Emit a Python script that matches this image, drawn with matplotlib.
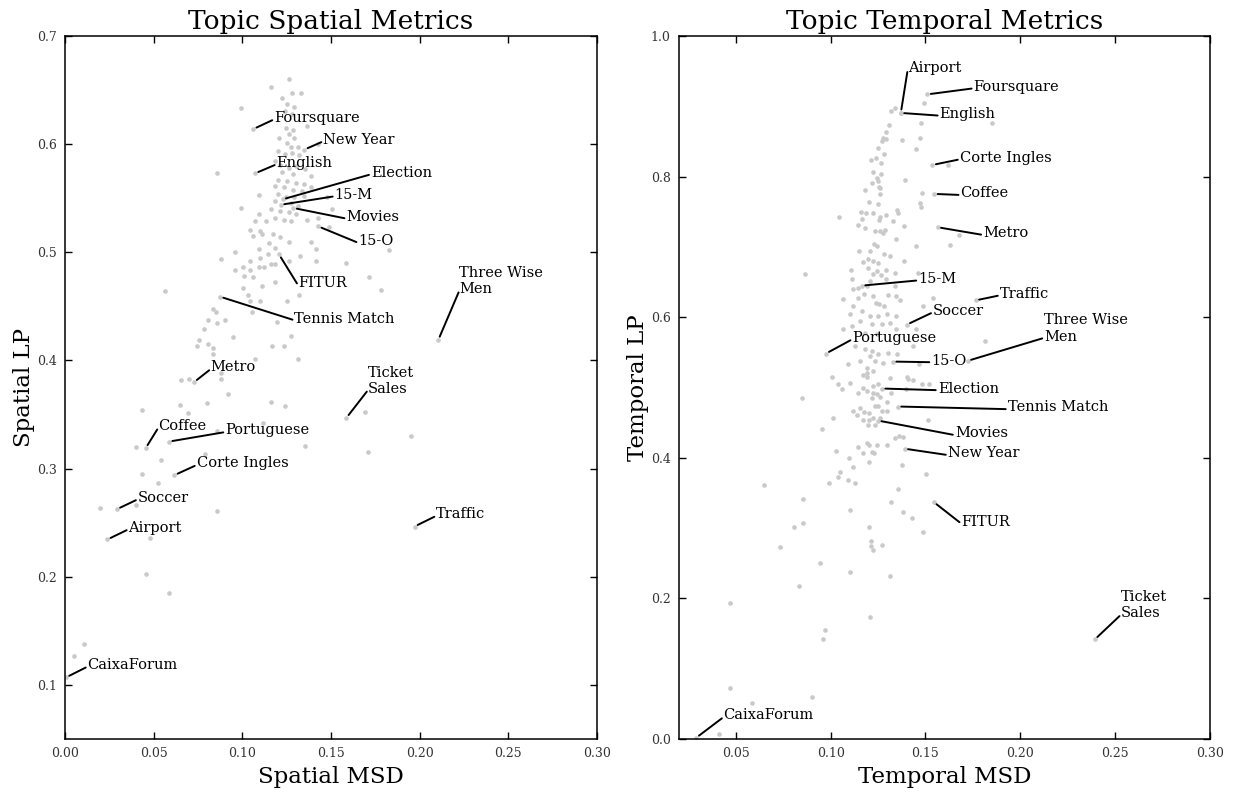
import matplotlib.pyplot as plt
from matplotlib.ticker import FormatStrFormatter

plt.rcParams['font.family'] = 'DejaVu Serif'

# ---- spatial metrics: every topic as (MSD, LP) ----
spatial_pts = [
    (0.1264, 0.660), (0.1159, 0.653), (0.1280, 0.647), (0.1328, 0.647), (0.1223, 0.643),
    (0.1250, 0.637), (0.1290, 0.634), (0.1240, 0.631), (0.1280, 0.628), (0.0995, 0.633),
    (0.1365, 0.617), (0.1244, 0.615), (0.1288, 0.613), (0.1264, 0.609), (0.1294, 0.606),
    (0.1207, 0.606), (0.1254, 0.601), (0.1274, 0.597), (0.1314, 0.597), (0.1426, 0.600),
    (0.1200, 0.594), (0.1240, 0.591), (0.1280, 0.592), (0.1320, 0.590), (0.0855, 0.573),
    (0.1183, 0.584), (0.1213, 0.581), (0.1264, 0.578), (0.1304, 0.580), (0.1355, 0.577),
    (0.1385, 0.571), (0.1223, 0.574), (0.1284, 0.572), (0.1203, 0.567), (0.1254, 0.566),
    (0.1304, 0.564), (0.1345, 0.563), (0.1183, 0.561), (0.1233, 0.560), (0.1284, 0.558),
    (0.1335, 0.557), (0.1385, 0.560), (0.1203, 0.554), (0.1244, 0.551), (0.1294, 0.551),
    (0.1345, 0.552), (0.1183, 0.547), (0.1274, 0.546), (0.1314, 0.543), (0.1163, 0.540),
    (0.1213, 0.538), (0.1264, 0.537), (0.1304, 0.535), (0.1183, 0.532), (0.1233, 0.530),
    (0.1274, 0.529), (0.1365, 0.530), (0.1426, 0.532), (0.1096, 0.553), (0.0991, 0.541),
    (0.1506, 0.540), (0.1476, 0.551), (0.1092, 0.535), (0.1132, 0.529), (0.1072, 0.529),
    (0.1102, 0.520), (0.1112, 0.517), (0.1041, 0.521), (0.1062, 0.515), (0.1490, 0.523),
    (0.1173, 0.517), (0.1213, 0.514), (0.1153, 0.509), (0.1183, 0.504), (0.1092, 0.503),
    (0.1142, 0.498), (0.1102, 0.495), (0.1264, 0.510), (0.1385, 0.510), (0.1415, 0.503),
    (0.1826, 0.502), (0.0880, 0.494), (0.0960, 0.500), (0.1041, 0.492), (0.1001, 0.486),
    (0.0960, 0.484), (0.1041, 0.484), (0.1011, 0.478), (0.1062, 0.477), (0.1092, 0.486),
    (0.1122, 0.486), (0.1163, 0.489), (0.1183, 0.489), (0.1264, 0.492), (0.1324, 0.497),
    (0.1415, 0.492), (0.1583, 0.490), (0.1112, 0.469), (0.1183, 0.473), (0.1001, 0.467),
    (0.1031, 0.461), (0.1041, 0.455), (0.1102, 0.455), (0.1254, 0.455), (0.1320, 0.461),
    (0.1715, 0.477), (0.1780, 0.465), (0.0564, 0.464), (0.0833, 0.448), (0.0852, 0.445),
    (0.0805, 0.437), (0.0856, 0.435), (0.0902, 0.437), (0.0786, 0.429), (0.0949, 0.422),
    (0.0756, 0.419), (0.0743, 0.413), (0.0808, 0.415), (0.0836, 0.412), (0.0836, 0.406),
    (0.1167, 0.413), (0.1235, 0.413), (0.1275, 0.423), (0.1316, 0.401), (0.1072, 0.401),
    (0.0654, 0.382), (0.0699, 0.383), (0.0880, 0.388), (0.0880, 0.383), (0.0921, 0.369),
    (0.0649, 0.359), (0.0799, 0.361), (0.1160, 0.362), (0.1241, 0.358), (0.0433, 0.354),
    (0.1053, 0.445), (0.1194, 0.436), (0.0694, 0.351), (0.1118, 0.3425), (0.0859, 0.335),
    (0.0398, 0.320), (0.0787, 0.3135), (0.1355, 0.321), (0.1951, 0.330), (0.1709, 0.315),
    (0.1690, 0.352), (0.0544, 0.308), (0.0433, 0.295), (0.0526, 0.287), (0.0198, 0.264),
    (0.0398, 0.266), (0.0859, 0.261), (0.0481, 0.236), (0.0459, 0.2025), (0.0586, 0.185),
    (0.0107, 0.138), (0.0051, 0.1265),
]

spatial_names = ['Foursquare', 'New Year', 'English', 'Election', '15-M', 'Movies',
                 '15-O', 'FITUR', 'Tennis Match', 'Three Wise\nMen', 'Metro',
                 'Ticket\nSales', 'Coffee', 'Portuguese', 'Corte Ingles', 'Soccer',
                 'Airport', 'Traffic', 'CaixaForum']
spatial_msd = [0.1062, 0.1350, 0.1072, 0.1227, 0.1217, 0.1288, 0.1428, 0.1207, 0.0874,
               0.2105, 0.0728, 0.1587, 0.0455, 0.0586, 0.0617, 0.0293, 0.0239, 0.1971,
               0.0006]
spatial_lp = [0.614, 0.595, 0.573, 0.549, 0.544, 0.541, 0.524, 0.498, 0.459,
              0.419, 0.380, 0.347, 0.319, 0.325, 0.294, 0.2625, 0.2345, 0.2465,
              0.107]
# where each label sits (left edge, baseline of first line)
spatial_text = [(0.1179, 0.6208), (0.1456, 0.6005), (0.1193, 0.5793), (0.1725, 0.570),
                (0.1521, 0.5497), (0.1587, 0.529), (0.1654, 0.5066), (0.1314, 0.4675),
                (0.1294, 0.435), (0.2224, 0.4622), (0.0822, 0.390), (0.1709, 0.3702),
                (0.0526, 0.3357), (0.0904, 0.3317), (0.0742, 0.3012), (0.0410, 0.2695),
                (0.0358, 0.2418), (0.2093, 0.2542), (0.0127, 0.1148)]

# ---- temporal metrics ----
temporal_pts = [
    (0.1317, 0.8935), (0.1338, 0.8977), (0.1491, 0.9048), (0.1475, 0.8764), (0.1307, 0.8736),
    (0.1291, 0.8636), (0.1275, 0.8551), (0.1270, 0.8509), (0.1291, 0.8537), (0.1375, 0.8523),
    (0.1470, 0.8551), (0.1449, 0.8395), (0.1249, 0.8409), (0.1280, 0.8324), (0.1212, 0.8239),
    (0.1238, 0.8267), (0.1265, 0.8196), (0.1222, 0.8068), (0.1265, 0.8040), (0.1243, 0.7983),
    (0.1249, 0.7940), (0.1217, 0.7912), (0.1254, 0.7855), (0.1259, 0.7841), (0.1391, 0.7955),
    (0.1180, 0.7812), (0.1259, 0.7756), (0.1481, 0.7770), (0.1201, 0.7642), (0.1249, 0.7614),
    (0.1470, 0.7628), (0.1475, 0.7571), (0.1159, 0.7500), (0.1185, 0.7486), (0.1222, 0.7486),
    (0.1259, 0.7429), (0.1291, 0.7457), (0.1349, 0.7528), (0.1354, 0.7486), (0.1043, 0.7429),
    (0.1164, 0.7401), (0.1254, 0.7386), (0.1328, 0.7372), (0.1143, 0.7315), (0.1180, 0.7273),
    (0.1233, 0.7230), (0.1259, 0.7230), (0.1286, 0.7244), (0.1275, 0.7202), (0.1386, 0.7301),
    (0.1344, 0.7116), (0.1852, 0.8763), (0.1617, 0.8166), (0.1679, 0.7170), (0.1631, 0.7033),
    (0.1487, 0.6166), (0.1450, 0.5834), (0.1815, 0.5658), (0.1435, 0.5587), (0.1468, 0.5336),
    (0.1402, 0.5146), (0.1449, 0.7017), (0.1228, 0.7045), (0.1243, 0.7017), (0.1207, 0.6946),
    (0.1149, 0.6946), (0.1280, 0.6903), (0.1312, 0.6875), (0.1196, 0.6832), (0.1170, 0.6790),
    (0.1222, 0.6804), (0.1249, 0.6776), (0.1386, 0.6804), (0.1106, 0.6676), (0.1196, 0.6705),
    (0.1243, 0.6662), (0.1222, 0.6619), (0.1265, 0.6605), (0.1291, 0.6676), (0.1460, 0.6634),
    (0.1338, 0.6634), (0.0864, 0.6619), (0.1112, 0.6548), (0.1207, 0.6520), (0.1291, 0.6548),
    (0.1143, 0.6420), (0.1117, 0.6406), (0.1191, 0.6449), (0.1338, 0.6449), (0.1175, 0.6335),
    (0.1222, 0.6307), (0.1301, 0.6321), (0.1344, 0.6307), (0.1365, 0.6250), (0.1064, 0.6264),
    (0.1143, 0.6278), (0.1254, 0.6193), (0.1280, 0.6165), (0.1238, 0.6207), (0.1117, 0.6165),
    (0.1539, 0.6278), (0.1164, 0.6094), (0.1101, 0.6051), (0.1207, 0.6023), (0.1249, 0.6023),
    (0.1296, 0.6051), (0.1344, 0.6023), (0.1154, 0.5952), (0.1217, 0.5909), (0.1270, 0.5909),
    (0.1312, 0.5923), (0.1344, 0.5838), (0.1112, 0.5881), (0.1064, 0.5838), (0.1180, 0.5781),
    (0.1243, 0.5767), (0.1128, 0.5597), (0.1180, 0.5554), (0.1217, 0.5526), (0.1249, 0.5483),
    (0.1301, 0.5497), (0.1349, 0.5483), (0.1207, 0.5455), (0.1154, 0.5384), (0.1233, 0.5384),
    (0.1275, 0.5355), (0.1091, 0.5341), (0.1191, 0.5284), (0.1222, 0.5241), (0.1006, 0.5156),
    (0.1170, 0.5185), (0.1191, 0.5213), (0.1191, 0.5156), (0.1312, 0.5142), (0.1407, 0.5128),
    (0.1433, 0.5114), (0.1038, 0.5043), (0.1101, 0.5071), (0.1059, 0.4972), (0.1170, 0.5000),
    (0.1191, 0.4957), (0.1222, 0.5028), (0.1249, 0.5043), (0.1222, 0.4929), (0.1243, 0.4901),
    (0.1259, 0.4872), (0.1217, 0.4858), (0.1143, 0.4915), (0.1317, 0.4915), (0.1396, 0.4972),
    (0.1481, 0.5043), (0.1518, 0.5043), (0.0848, 0.4844), (0.1296, 0.4787), (0.1233, 0.4744),
    (0.1249, 0.4744), (0.1117, 0.4673), (0.1154, 0.4702), (0.1138, 0.4616), (0.1175, 0.4645),
    (0.1201, 0.4631), (0.1270, 0.4659), (0.1296, 0.4659), (0.1170, 0.4545), (0.1201, 0.4531),
    (0.1222, 0.4560), (0.1259, 0.4560), (0.1196, 0.4474), (0.1233, 0.4474), (0.1012, 0.4560),
    (0.1512, 0.4545), (0.0954, 0.4403), (0.1338, 0.4276), (0.1359, 0.4304), (0.1380, 0.4290),
    (0.1191, 0.4205), (0.1201, 0.4176), (0.1143, 0.4148), (0.1243, 0.4176), (0.1296, 0.4176),
    (0.1170, 0.4062), (0.1217, 0.4077), (0.1228, 0.4062), (0.1027, 0.4091), (0.1096, 0.3991),
    (0.1201, 0.3935), (0.1117, 0.3864), (0.1375, 0.3892), (0.1048, 0.3793), (0.1038, 0.3722),
    (0.1091, 0.3679), (0.1128, 0.3636), (0.0991, 0.3636), (0.1502, 0.3764), (0.1354, 0.3551),
    (0.0853, 0.3409), (0.1317, 0.3366), (0.1101, 0.3253), (0.1380, 0.3224), (0.1428, 0.3139),
    (0.0649, 0.3611), (0.0808, 0.3019), (0.0856, 0.3080), (0.1201, 0.3019), (0.1489, 0.2943),
    (0.0732, 0.2734), (0.1211, 0.2815), (0.1215, 0.2749), (0.1224, 0.2687), (0.1272, 0.2763),
    (0.0943, 0.2507), (0.1314, 0.2322), (0.1100, 0.2379), (0.0835, 0.2175), (0.1209, 0.1729),
    (0.0467, 0.1929), (0.0969, 0.1549), (0.0960, 0.1426), (0.0469, 0.0729), (0.0586, 0.0516),
    (0.0899, 0.0601), (0.0410, 0.0071),
]

temporal_names = ['Airport', 'Foursquare', 'English', 'Corte Ingles', 'Coffee', 'Metro',
                  '15-M', 'Traffic', 'Soccer', 'Portuguese', '15-O', 'Three Wise\nMen',
                  'Election', 'Tennis Match', 'Movies', 'New Year', 'FITUR',
                  'Ticket\nSales', 'CaixaForum']
temporal_msd = [0.1370, 0.1510, 0.1370, 0.1537, 0.1546, 0.1564, 0.1164, 0.1765, 0.1402,
                0.0975, 0.1328, 0.1723, 0.1270, 0.1354, 0.1250, 0.1390, 0.1544, 0.2393,
                0.0291]
temporal_lp = [0.8906, 0.917, 0.8906, 0.8166, 0.7754, 0.728, 0.6449, 0.624, 0.5895,
               0.5483, 0.5369, 0.538, 0.4986, 0.473, 0.453, 0.413, 0.337, 0.1417,
               0.0018]
temporal_text = [(0.1406, 0.9484), (0.1754, 0.9223), (0.1575, 0.8834), (0.1681, 0.8213),
                 (0.1685, 0.7706), (0.1804, 0.7137), (0.1462, 0.6491), (0.1892, 0.6278),
                 (0.1539, 0.6037), (0.1114, 0.5653), (0.1531, 0.5327), (0.2126, 0.5668),
                 (0.1565, 0.4929), (0.1934, 0.4659), (0.1655, 0.4290), (0.1618, 0.4006),
                 (0.1688, 0.3033), (0.2531, 0.1730), (0.0435, 0.0279)]

DOT = '#c9c9c9'


def draw_panel(ax, pts, names, xs, ys, texts, title, xlabel, ylabel):
    px, py = zip(*pts)
    ax.scatter(px, py, s=11, c=DOT, linewidths=0, zorder=2)
    ax.scatter(xs, ys, s=11, c=DOT, linewidths=0, zorder=2)
    for name, x, y, (tx, ty) in zip(names, xs, ys, texts):
        nl = name.count('\n') + 1
        ax.annotate(name, xy=(x, y), xytext=(tx, ty), ha='left', va='baseline',
                    fontsize=10.5, zorder=4,
                    arrowprops=dict(arrowstyle='-', color='k', lw=1.4,
                                    relpos=(0, 0.38 / nl), patchA=None,
                                    shrinkA=1.5, shrinkB=2.5))
    ax.set_title(title, fontsize=19, pad=5)
    ax.set_xlabel(xlabel, fontsize=16.5, labelpad=4)
    ax.set_ylabel(ylabel, fontsize=16.5, labelpad=1)
    ax.tick_params(direction='in', top=True, right=True, length=5, width=1,
                   labelsize=9, pad=6, colors='k', labelcolor='#333333')
    for sp in ax.spines.values():
        sp.set_linewidth(1.1)
    ax.xaxis.set_major_formatter(FormatStrFormatter('%.2f'))
    ax.yaxis.set_major_formatter(FormatStrFormatter('%.1f'))


fig = plt.figure(figsize=(12.34, 7.95), dpi=100)
ax1 = fig.add_axes([0.0527, 0.0704, 0.4311, 0.8843])
ax2 = fig.add_axes([0.5502, 0.0704, 0.4303, 0.8843])

draw_panel(ax1, spatial_pts, spatial_names, spatial_msd, spatial_lp, spatial_text,
           'Topic Spatial Metrics', 'Spatial MSD', 'Spatial LP')
ax1.set_xlim(0, 0.30)
ax1.set_ylim(0.05, 0.70)
ax1.set_xticks([0, 0.05, 0.10, 0.15, 0.20, 0.25, 0.30])
ax1.set_yticks([0.1, 0.2, 0.3, 0.4, 0.5, 0.6, 0.7])

draw_panel(ax2, temporal_pts, temporal_names, temporal_msd, temporal_lp, temporal_text,
           'Topic Temporal Metrics', 'Temporal MSD', 'Temporal LP')
ax2.set_xlim(0.02, 0.30)
ax2.set_ylim(0, 1.0)
ax2.set_xticks([0.05, 0.10, 0.15, 0.20, 0.25, 0.30])
ax2.set_yticks([0.0, 0.2, 0.4, 0.6, 0.8, 1.0])

fig.savefig('out.png', dpi=100)
